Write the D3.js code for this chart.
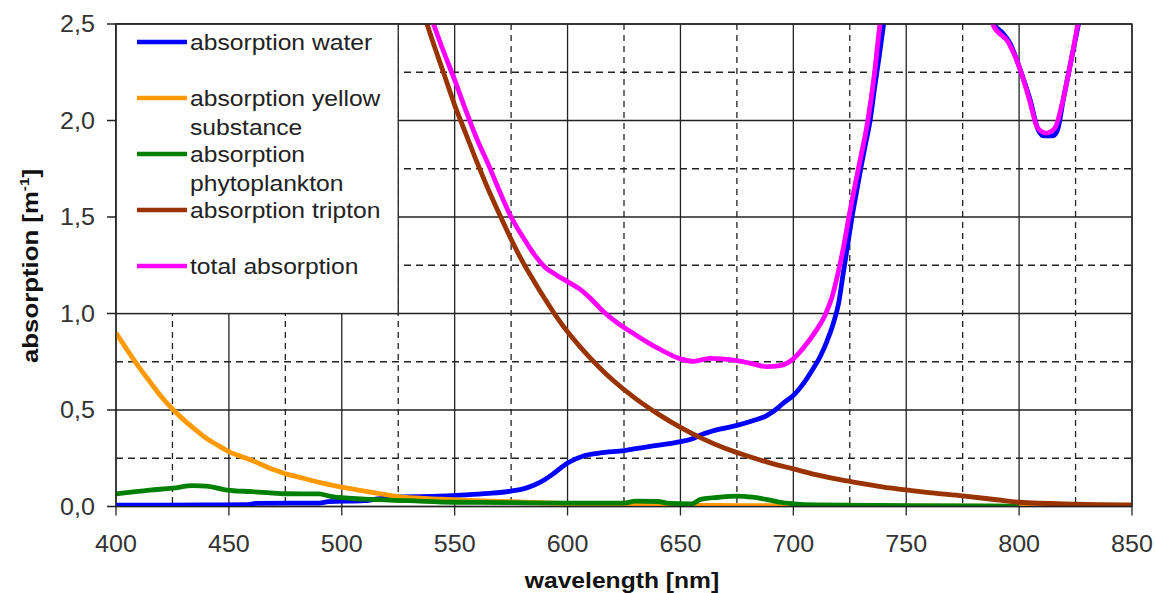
<!DOCTYPE html>
<html>
<head>
<meta charset="utf-8">
<script src="https://cdn.jsdelivr.net/npm/d3@7"></script>
<style>
  body { margin: 0; background: #fff; }
  svg { display: block; font-family: "Liberation Sans", Arial, sans-serif; }
</style>
</head>
<body>
<svg id="chart"></svg>
<script>
// absorption spectra: [wavelength nm, absorption 1/m]
const water = [
  [400, 0.007], [420, 0.007], [440, 0.008], [458, 0.01], [462, 0.016], [490, 0.018],
  [494, 0.025], [510, 0.03], [515, 0.038], [525, 0.05], [540, 0.052], [555, 0.06],
  [565, 0.068], [575, 0.08], [580, 0.09], [585, 0.11], [590, 0.14], [594, 0.172],
  [600, 0.225], [607, 0.262], [614, 0.277], [625, 0.29], [636, 0.31], [650, 0.336],
  [655, 0.35], [659, 0.371], [666, 0.397], [675, 0.42], [682, 0.444], [688, 0.47],
  [692, 0.5], [696, 0.54], [700, 0.575], [704, 0.63], [708, 0.7], [712, 0.78],
  [715, 0.86], [718, 0.96], [720, 1.05], [722, 1.2], [724, 1.35], [726, 1.5],
  [728, 1.63], [730, 1.76], [732, 1.88], [734, 2.0], [736, 2.17], [738, 2.33],
  [740, 2.5], [742, 2.65], [750, 2.85], [765, 2.9], [780, 2.8], [786, 2.62],
  [789, 2.5], [793, 2.45], [796, 2.4], [800, 2.28], [804.8, 2.11], [808.5, 1.95],
  [811, 1.92], [815, 1.92], [817, 1.95], [819.6, 2.11], [822.5, 2.28], [826.3, 2.5],
  [830, 2.7]
];
const yellowSubstance = [
  [400, 0.9], [405, 0.81], [410, 0.725], [415, 0.647], [420, 0.57], [425, 0.505],
  [430, 0.449], [435, 0.4], [440, 0.354], [445, 0.318], [450, 0.284], [460, 0.24],
  [470, 0.19], [475, 0.17], [480, 0.155], [490, 0.125], [500, 0.1], [510, 0.08],
  [520, 0.06], [525, 0.051], [540, 0.04], [550, 0.035], [560, 0.03], [575, 0.025],
  [600, 0.015], [625, 0.01], [650, 0.006], [675, 0.005], [700, 0.004], [750, 0.002],
  [800, 0.001], [850, 0.001]
];
const phytoplankton = [
  [400, 0.065], [415, 0.085], [425, 0.095], [434, 0.108], [440, 0.106], [449, 0.085],
  [460, 0.077], [467, 0.072], [475, 0.066], [490, 0.065], [495, 0.052], [510, 0.038],
  [530, 0.03], [550, 0.022], [575, 0.02], [600, 0.018], [625, 0.018], [630, 0.028],
  [640, 0.026], [645, 0.016], [655, 0.014], [659, 0.037], [667, 0.048], [675, 0.054],
  [682, 0.048], [688, 0.037], [694, 0.022], [700, 0.014], [710, 0.008], [750, 0.004],
  [800, 0.002]
];
const tripton = [
  [525, 3.0], [530, 2.8], [535, 2.6], [540, 2.42], [545, 2.25], [550, 2.08],
  [555, 1.93], [560, 1.78], [565, 1.64], [570, 1.51], [575, 1.385], [580, 1.27],
  [585, 1.17], [590, 1.075], [595, 0.985], [600, 0.905], [605, 0.835], [610, 0.77],
  [615, 0.71], [620, 0.655], [630, 0.56], [640, 0.48], [650, 0.41], [660, 0.35],
  [670, 0.3], [680, 0.26], [690, 0.225], [700, 0.195], [710, 0.165], [720, 0.14],
  [730, 0.12], [740, 0.1], [750, 0.086], [760, 0.072], [775, 0.055], [790, 0.035],
  [800, 0.022], [825, 0.012], [850, 0.008]
];
const total = [
  [530, 2.85], [535, 2.68], [540, 2.52], [545, 2.36], [550, 2.21], [555, 2.05],
  [560, 1.9], [565, 1.77], [570, 1.63], [575, 1.5], [580, 1.4], [585, 1.31],
  [590, 1.24], [595, 1.2], [600, 1.165], [605, 1.13], [610, 1.08], [615, 1.02],
  [620, 0.97], [630, 0.89], [640, 0.82], [650, 0.765], [656, 0.752], [663, 0.768],
  [673, 0.76], [681, 0.742], [688, 0.725], [694, 0.73], [700, 0.765], [705, 0.83],
  [710, 0.91], [714, 0.99], [717, 1.08], [720, 1.22], [722, 1.33], [724.6, 1.5],
  [728.8, 1.75], [733, 2.0], [736, 2.25], [738.4, 2.5], [742, 2.7], [750, 2.9],
  [765, 2.95], [780, 2.85], [785, 2.65], [788.3, 2.5], [795.5, 2.4], [800, 2.28],
  [804.5, 2.11], [808.3, 1.96], [812, 1.935], [815.8, 1.96], [819.5, 2.11], [822.5, 2.28],
  [826, 2.5], [830, 2.8]
];

const seriesNames = [
  ["absorption water"],
  ["absorption yellow", "substance"],
  ["absorption", "phytoplankton"],
  ["absorption tripton"],
  ["total absorption"]
];
const seriesData = [water, yellowSubstance, phytoplankton, tripton, total];
const seriesColors = ["#0000ff", "#ff9900", "#008000", "#993300", "#ff00ff"];

const xMajor = [400, 450, 500, 550, 600, 650, 700, 750, 800, 850];
const xMinor = [425, 475, 525, 575, 625, 675, 725, 775, 825];
const yMajor = [0, 0.5, 1.0, 1.5, 2.0, 2.5];
const yMinor = [0.25, 0.75, 1.25, 1.75, 2.25];
const yTickLabels = ["0,0", "0,5", "1,0", "1,5", "2,0", "2,5"];

const W = 1156, H = 593;
const pL = 116, pR = 1132, pT = 24, pB = 506.5;

const svg = d3.select("#chart").attr("width", W).attr("height", H);

const x = d3.scaleLinear().domain([400, 850]).range([pL, pR]);
const y = d3.scaleLinear().domain([0, 2.5]).range([pB, pT]);

// stretch text a bit wider, the source renders its glyphs broad
function widen(sel, k) {
  sel.each(function () {
    const len = this.getComputedTextLength();
    d3.select(this).attr("textLength", len * k).attr("lengthAdjust", "spacingAndGlyphs");
  });
}

svg.append("defs").append("clipPath").attr("id", "plot")
  .append("rect").attr("x", pL).attr("y", pT)
  .attr("width", pR - pL).attr("height", pB - pT);

// grid
const grid = svg.append("g").attr("stroke", "#222").attr("stroke-width", 1.3);
grid.append("g").selectAll("line").data(xMinor).join("line")
  .attr("x1", d => x(d)).attr("x2", d => x(d)).attr("y1", pT).attr("y2", pB)
  .attr("stroke-dasharray", "6,5");
grid.append("g").selectAll("line").data(yMinor).join("line")
  .attr("x1", pL).attr("x2", pR).attr("y1", d => y(d)).attr("y2", d => y(d))
  .attr("stroke-dasharray", "7,5");
grid.append("g").selectAll("line").data(xMajor).join("line")
  .attr("x1", d => x(d)).attr("x2", d => x(d)).attr("y1", pT).attr("y2", pB + 9);
grid.append("g").selectAll("line").data(yMajor).join("line")
  .attr("x1", pL - 9).attr("x2", pR).attr("y1", d => y(d)).attr("y2", d => y(d));

// curves
const line = d3.line().x(d => x(d[0])).y(d => y(d[1])).curve(d3.curveMonotoneX);
svg.append("g").attr("clip-path", "url(#plot)")
  .selectAll("path").data(seriesData).join("path")
  .attr("d", line)
  .attr("fill", "none")
  .attr("stroke", (d, i) => seriesColors[i])
  .attr("stroke-width", 4.8)
  .attr("stroke-linejoin", "round");

// legend box over the upper left grid cells
const legend = svg.append("g");
legend.append("rect")
  .attr("x", pL).attr("y", pT)
  .attr("width", x(525) - pL).attr("height", y(1.0) - pT)
  .attr("fill", "#fff").attr("stroke", "#222").attr("stroke-width", 1.3);
const item = legend.selectAll("g").data(seriesNames).join("g")
  .attr("transform", (d, i) => `translate(137,${42 + i * 56})`);
item.append("line")
  .attr("x1", 0).attr("x2", 50)
  .attr("stroke", (d, i) => seriesColors[i]).attr("stroke-width", 4.5);
item.each(function (d) {
  const t = d3.select(this).append("text")
    .attr("x", 53).attr("y", 8)
    .attr("font-size", 22).attr("fill", "#222");
  d.forEach((s, j) => t.append("tspan").attr("x", 53).attr("dy", j ? 29 : 0).text(s));
});
item.selectAll("tspan").call(widen, 1.12);

// plot frame
svg.append("rect").attr("x", pL).attr("y", pT)
  .attr("width", pR - pL).attr("height", pB - pT)
  .attr("fill", "none").attr("stroke", "#222").attr("stroke-width", 1.3);

// tick labels
svg.append("g").selectAll("text").data(xMajor).join("text")
  .attr("x", d => x(d)).attr("y", 552)
  .attr("text-anchor", "middle").attr("font-size", 23).attr("fill", "#333")
  .text(d => d)
  .call(widen, 1.09);

svg.append("g").selectAll("text").data(yMajor).join("text")
  .attr("x", 95).attr("y", d => y(d)).attr("dy", "0.36em")
  .attr("text-anchor", "end").attr("font-size", 23).attr("fill", "#333")
  .text((d, i) => yTickLabels[i])
  .call(widen, 1.09);

// axis titles
svg.append("text")
  .attr("x", 622).attr("y", 588)
  .attr("text-anchor", "middle").attr("font-size", 22).attr("font-weight", "bold")
  .attr("fill", "#111")
  .text("wavelength [nm]")
  .call(widen, 1.12);

const yTitle = svg.append("text")
  .attr("transform", "translate(38,266) rotate(-90)")
  .attr("text-anchor", "middle").attr("font-size", 22).attr("font-weight", "bold")
  .attr("fill", "#111");
yTitle.append("tspan").text("absorption [m");
yTitle.append("tspan").attr("font-size", 13).attr("dy", -9).text("-1");
yTitle.append("tspan").attr("dy", 9).text("]");
yTitle.attr("textLength", 194).attr("lengthAdjust", "spacingAndGlyphs");
</script>
</body>
</html>
